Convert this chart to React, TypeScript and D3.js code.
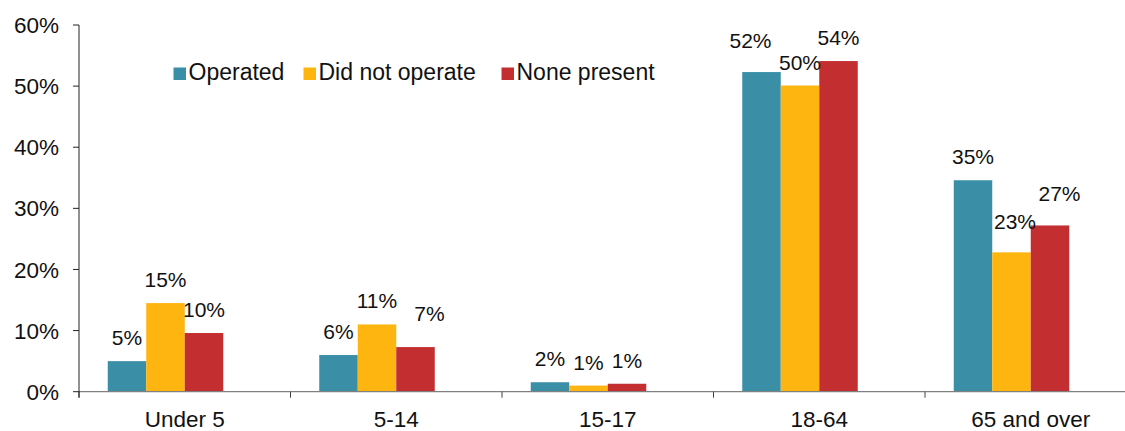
import React from "react";
import * as d3 from "d3";

const categories = ["Under 5", "5-14", "15-17", "18-64", "65 and over"];
const seriesNames = ["Operated", "Did not operate", "None present"];
const operated = [5.0, 6.0, 1.55, 52.3, 34.6];
const didNotOperate = [14.5, 11.0, 1.0, 50.1, 22.8];
const nonePresent = [9.6, 7.3, 1.3, 54.1, 27.2];
const valueLabels = [
  ["5%", "6%", "2%", "52%", "35%"],
  ["15%", "11%", "1%", "50%", "23%"],
  ["10%", "7%", "1%", "54%", "27%"],
];
const yTicks = [0, 10, 20, 30, 40, 50, 60];
const colors = ["#3A8FA7", "#FFB50F", "#C32E30"];

// manual label nudges (series, category) -> [dx, dy]
const labelNudge: Record<string, [number, number]> = {
  "2-1": [14, -10.5],
  "0-3": [-11, -8],
  "1-4": [3.5, -7.3],
  "2-4": [9.5, -8.3],
};

export default function App() {
  const W = 1125;
  const H = 431;
  const left = 79;
  const bandW = 211.5;
  const base = 391.7;
  const top = 25;
  const font = "'Liberation Sans', Arial, sans-serif";

  const x = d3
    .scaleBand<string>()
    .domain(categories)
    .range([left, left + bandW * categories.length])
    .padding(0);
  const slots = ["s0", "s1", "s2", "hidden"];
  const barW = 38.5;
  const pad = (bandW - barW * slots.length) / 2;
  const x1 = d3.scaleBand<string>().domain(slots).range([pad, pad + barW * slots.length]);
  const y = d3.scaleLinear().domain([0, 60]).range([base, top]);

  const series = [operated, didNotOperate, nonePresent];

  return (
    <svg
      width={W}
      height={H}
      style={{ position: "absolute", left: 0, top: 0, background: "#fff" }}
      fontFamily={font}
    >
      {/* bars */}
      {series.map((vals, si) =>
        vals.map((v, ci) => {
          const bx = (x(categories[ci]) as number) + (x1(slots[si]) as number);
          return (
            <rect
              key={`b${si}-${ci}`}
              x={bx}
              y={y(v)}
              width={x1.bandwidth()}
              height={base - y(v)}
              fill={colors[si]}
            />
          );
        })
      )}
      {/* x axis */}
      <line x1={left} x2={W} y1={base} y2={base} stroke="#808080" strokeWidth={1.3} />
      {categories.map((c, i) => (
        <line
          key={`xt${i}`}
          x1={x(c) as number}
          x2={x(c) as number}
          y1={base}
          y2={base + 6}
          stroke="#404040"
          strokeWidth={1}
        />
      ))}
      {categories.map((c) => (
        <text
          key={`xl${c}`}
          x={(x(c) as number) + bandW / 2}
          y={426.5}
          textAnchor="middle"
          fontSize={22.5}
          fill="#111"
        >
          {c}
        </text>
      ))}
      {/* y axis */}
      <line x1={left} x2={left} y1={top} y2={base + 6} stroke="#222" strokeWidth={1} />
      {yTicks.map((t) => (
        <g key={`yt${t}`}>
          <line x1={left - 6} x2={left} y1={y(t)} y2={y(t)} stroke="#222" strokeWidth={1} />
          <text
            x={59}
            y={y(t)}
            dy="0.36em"
            textAnchor="end"
            fontSize={22.5}
            fill="#111"
          >
            {t}%
          </text>
        </g>
      ))}
      {/* value labels */}
      {series.map((vals, si) =>
        vals.map((v, ci) => {
          const cx =
            (x(categories[ci]) as number) + (x1(slots[si]) as number) + x1.bandwidth() / 2;
          const n = labelNudge[`${si}-${ci}`] || [0, 0];
          return (
            <text
              key={`vl${si}-${ci}`}
              x={cx + n[0]}
              y={y(v) - 16 + n[1]}
              textAnchor="middle"
              fontSize={21}
              fill="#111"
            >
              {valueLabels[si][ci]}
            </text>
          );
        })
      )}
      {/* legend */}
      {seriesNames.map((s, i) => {
        const lx = [173.5, 303.5, 501.5][i];
        return (
          <g key={`lg${i}`}>
            <rect x={lx} y={67.5} width={12.5} height={12.5} fill={colors[i]} />
            <text x={lx + 15} y={80} fontSize={23} fill="#111">
              {s}
            </text>
          </g>
        );
      })}
    </svg>
  );
}
